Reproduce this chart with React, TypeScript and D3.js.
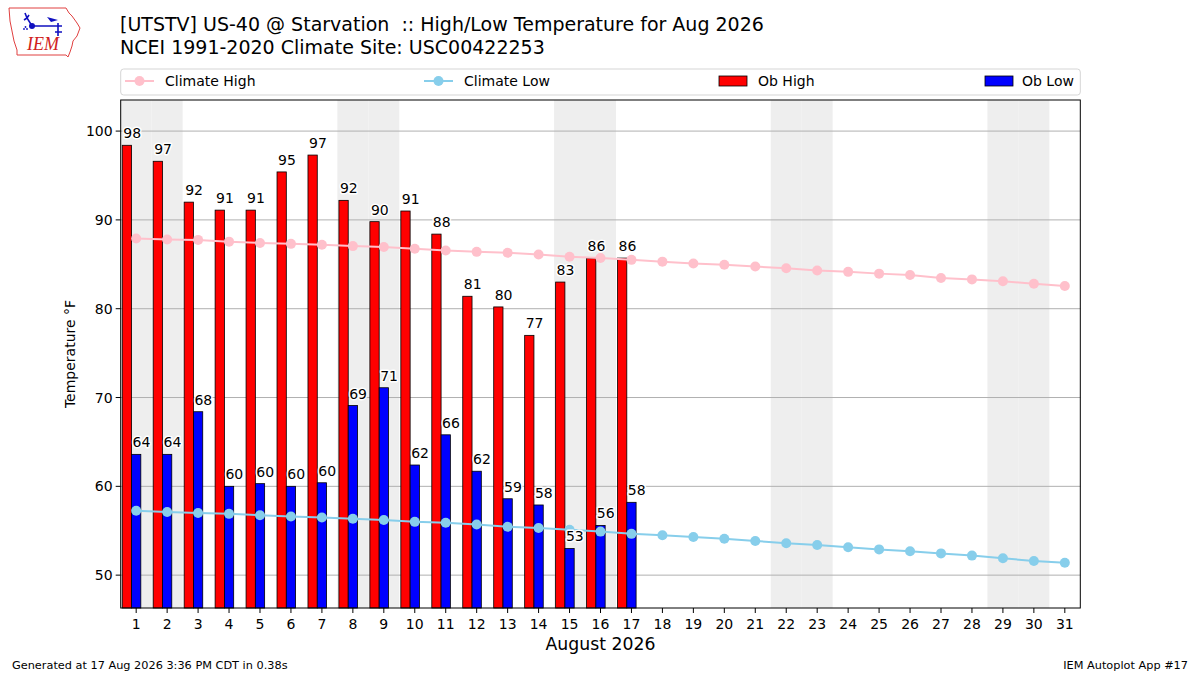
import React, { useEffect, useRef } from 'react';
import * as d3 from 'd3';

// --- data ---
const DAYS = [1, 2, 3, 4, 5, 6, 7, 8, 9, 10, 11, 12, 13, 14, 15, 16, 17, 18, 19, 20, 21, 22, 23, 24, 25, 26, 27, 28, 29, 30, 31];
const WEEKEND_DAYS = [1, 2, 8, 9, 15, 16, 22, 23, 29, 30];
const OB_HIGH = [98.4, 96.6, 92.0, 91.1, 91.1, 95.4, 97.3, 92.2, 89.8, 91.0, 88.4, 81.4, 80.2, 77.0, 83.0, 85.7, 85.7];
const OB_LOW = [63.6, 63.6, 68.4, 60.0, 60.3, 60.0, 60.4, 69.1, 71.1, 62.4, 65.8, 61.7, 58.6, 57.9, 53.0, 55.6, 58.2];
const CLIMATE_HIGH = [87.9, 87.8, 87.75, 87.55, 87.4, 87.3, 87.2, 87.05, 86.95, 86.75, 86.55, 86.4, 86.3, 86.1, 85.85, 85.7, 85.5, 85.3, 85.1, 84.95, 84.75, 84.55, 84.3, 84.15, 83.95, 83.8, 83.45, 83.3, 83.1, 82.8, 82.55];
const CLIMATE_LOW = [57.25, 57.1, 57.0, 56.9, 56.75, 56.6, 56.5, 56.35, 56.2, 56.0, 55.9, 55.7, 55.45, 55.3, 55.1, 54.9, 54.65, 54.5, 54.3, 54.1, 53.85, 53.6, 53.4, 53.15, 52.9, 52.7, 52.45, 52.2, 51.9, 51.6, 51.4];
const Y_TICKS = [50, 60, 70, 80, 90, 100];

const LEGEND = [
  { label: 'Climate High', kind: 'line', color: 'pink', x: 125, tx: 165 },
  { label: 'Climate Low', kind: 'line', color: 'skyblue', x: 424, tx: 464 },
  { label: 'Ob High', kind: 'bar', color: 'red', x: 719, tx: 758 },
  { label: 'Ob Low', kind: 'bar', color: 'blue', x: 985, tx: 1022 },
];

const FONT = '"DejaVu Sans", sans-serif';

const App: React.FC = () => {
  const svgRef = useRef<SVGSVGElement | null>(null);

  useEffect(() => {
    if (!svgRef.current) return;
    const width = 1200;
    const height = 675;
    const plot = { left: 120.7, right: 1080.3, top: 100, bottom: 608 };
    const BAR_W = 0.3;

    const svg = d3.select(svgRef.current);
    svg.selectAll('*').remove();

    svg.append('rect').attr('width', width).attr('height', height).attr('fill', 'white');

    const x = d3.scaleLinear().domain([0.5, 31.5]).range([plot.left, plot.right]);
    const y = d3.scaleLinear().domain([46.3, 103.5]).range([plot.bottom, plot.top]);
    const bw = x(0.5 + BAR_W) - x(0.5);

    const g = svg.append('g');

    // weekend shading
    g.selectAll('.wk').data(WEEKEND_DAYS).enter().append('rect')
      .attr('x', d => x(d - 0.5)).attr('width', d => x(d + 0.5) - x(d - 0.5))
      .attr('y', plot.top).attr('height', plot.bottom - plot.top)
      .attr('fill', '#eeeeee');

    // grid
    g.selectAll('.grid').data(Y_TICKS).enter().append('line')
      .attr('x1', plot.left).attr('x2', plot.right)
      .attr('y1', d => y(d)).attr('y2', d => y(d))
      .attr('stroke', '#b0b0b0').attr('stroke-width', 1);

    // bars: high centred at day-0.3, low centred on the day
    const highData = OB_HIGH.map((v, i) => ({ day: DAYS[i], v, left: x(DAYS[i] - 0.3 - BAR_W / 2) }));
    const lowData = OB_LOW.map((v, i) => ({ day: DAYS[i], v, left: x(DAYS[i] - BAR_W / 2) }));

    g.selectAll('.hi').data(highData).enter().append('rect')
      .attr('x', d => d.left).attr('width', bw)
      .attr('y', d => y(d.v)).attr('height', d => plot.bottom - y(d.v))
      .attr('fill', 'red').attr('stroke', 'black').attr('stroke-width', 0.8);

    g.selectAll('.lo').data(lowData).enter().append('rect')
      .attr('x', d => d.left).attr('width', bw)
      .attr('y', d => y(d.v)).attr('height', d => plot.bottom - y(d.v))
      .attr('fill', 'blue').attr('stroke', 'black').attr('stroke-width', 0.8);

    // climate lines
    const line = d3.line<number>().x((_, i) => x(DAYS[i])).y(d => y(d));
    [[CLIMATE_HIGH, 'pink'], [CLIMATE_LOW, 'skyblue']].forEach(([vals, col]) => {
      const arr = vals as number[];
      g.append('path').datum(arr).attr('d', line).attr('fill', 'none')
        .attr('stroke', col as string).attr('stroke-width', 2);
      g.selectAll(null).data(arr).enter().append('circle')
        .attr('cx', (_, i) => x(DAYS[i])).attr('cy', d => y(d)).attr('r', 5)
        .attr('fill', col as string);
    });

    // value labels with white halo
    const labelStyle = (sel: any) => sel
      .attr('font-family', FONT).attr('font-size', 14).attr('fill', 'black')
      .attr('stroke', 'white').attr('stroke-width', 3).attr('paint-order', 'stroke')
      .attr('stroke-linejoin', 'round');

    g.selectAll('.hiLab').data(highData).enter().append('text')
      .attr('x', d => d.left + 1).attr('y', d => y(d.v) - 7)
      .call(labelStyle).text(d => Math.round(d.v));
    g.selectAll('.loLab').data(lowData).enter().append('text')
      .attr('x', d => d.left + 1).attr('y', d => y(d.v) - 7)
      .call(labelStyle).text(d => Math.round(d.v));

    // frame
    svg.append('rect').attr('x', plot.left).attr('y', plot.top)
      .attr('width', plot.right - plot.left).attr('height', plot.bottom - plot.top)
      .attr('fill', 'none').attr('stroke', 'black').attr('stroke-width', 1);

    // y axis
    const yAx = svg.append('g');
    Y_TICKS.forEach(t => {
      yAx.append('line').attr('x1', plot.left - 5).attr('x2', plot.left)
        .attr('y1', y(t)).attr('y2', y(t)).attr('stroke', 'black');
      yAx.append('text').attr('x', plot.left - 8).attr('y', y(t) + 5)
        .attr('text-anchor', 'end').attr('font-family', FONT).attr('font-size', 14).text(t);
    });
    svg.append('text').attr('transform', `translate(75,${(plot.top + plot.bottom) / 2}) rotate(-90)`)
      .attr('text-anchor', 'middle').attr('font-family', FONT).attr('font-size', 14)
      .text('Temperature °F');

    // x axis
    const xAx = svg.append('g');
    DAYS.forEach(d => {
      xAx.append('line').attr('x1', x(d)).attr('x2', x(d))
        .attr('y1', plot.bottom).attr('y2', plot.bottom + 5).attr('stroke', 'black');
      xAx.append('text').attr('x', x(d)).attr('y', plot.bottom + 21)
        .attr('text-anchor', 'middle').attr('font-family', FONT).attr('font-size', 14).text(d);
    });
    svg.append('text').attr('x', (plot.left + plot.right) / 2).attr('y', 650)
      .attr('text-anchor', 'middle').attr('font-family', FONT).attr('font-size', 17.3)
      .text('August 2026');

    // legend
    const leg = svg.append('g');
    leg.append('rect').attr('x', plot.left).attr('y', 69).attr('width', plot.right - plot.left)
      .attr('height', 26).attr('rx', 3).attr('fill', 'white')
      .attr('stroke', '#d5d5d5').attr('stroke-width', 1);
    LEGEND.forEach(e => {
      if (e.kind === 'line') {
        leg.append('line').attr('x1', e.x).attr('x2', e.x + 29).attr('y1', 81).attr('y2', 81)
          .attr('stroke', e.color).attr('stroke-width', 2);
        leg.append('circle').attr('cx', e.x + 14.5).attr('cy', 81).attr('r', 5).attr('fill', e.color);
      } else {
        leg.append('rect').attr('x', e.x).attr('y', 76).attr('width', 28).attr('height', 10)
          .attr('fill', e.color).attr('stroke', 'black').attr('stroke-width', 0.8);
      }
      leg.append('text').attr('x', e.tx).attr('y', 86).attr('font-family', FONT)
        .attr('font-size', 14).text(e.label);
    });

    // titles
    svg.append('text').attr('x', 120).attr('y', 31).attr('font-family', FONT).attr('font-size', 19)
      .attr('xml:space', 'preserve')
      .text('[UTSTV] US-40 @ Starvation  :: High/Low Temperature for Aug 2026');
    svg.append('text').attr('x', 120).attr('y', 54).attr('font-family', FONT).attr('font-size', 19)
      .text('NCEI 1991-2020 Climate Site: USC00422253');

    // footer
    svg.append('text').attr('x', 12).attr('y', 669).attr('font-family', FONT).attr('font-size', 11.3)
      .text('Generated at 17 Aug 2026 3:36 PM CDT in 0.38s');
    svg.append('text').attr('x', 1188).attr('y', 669).attr('text-anchor', 'end')
      .attr('font-family', FONT).attr('font-size', 11.3).text('IEM Autoplot App #17');

    // logo (rough IEM mark)
    const logo = svg.append('g');
    logo.append('path')
      .attr('d', 'M9,8 L66,8 L69,13 L72,16 L77,23 L80,28 L77,36 L73,41 L72,46 L70,52 L68,57 L66,55 L17,55 L17,50 L14,41 L12,31 L10,21 Z')
      .attr('fill', 'white').attr('stroke', '#e04040').attr('stroke-width', 1);
    logo.append('path').attr('d', 'M25,13 L27,18 L32,26 L62,26 M58,23 L58,36 M55,32 L62,32 M27,18 L24,20 M27,18 L29,15')
      .attr('stroke', '#1010c0').attr('stroke-width', 1.6).attr('fill', 'none');
    logo.append('path').attr('d', 'M47,17 L58,20 L51,22 Z').attr('fill', '#1010c0');
    logo.append('circle').attr('cx', 32).attr('cy', 26).attr('r', 3).attr('fill', '#1010c0');
    logo.selectAll(null).data([[24, 29], [27, 29], [25.5, 27]]).enter().append('circle')
      .attr('cx', d => d[0]).attr('cy', d => d[1]).attr('r', 0.9).attr('fill', '#1010c0');
    logo.append('text').attr('x', 27).attr('y', 50).attr('font-family', '"Liberation Serif", serif')
      .attr('font-style', 'italic').attr('font-size', 18).attr('fill', '#d02020').text('IEM');
  }, []);

  return (
    <div style={{ position: 'absolute', left: 0, top: 0 }}>
      <svg ref={svgRef} width={1200} height={675} style={{ display: 'block' }}></svg>
    </div>
  );
};

export default App;
